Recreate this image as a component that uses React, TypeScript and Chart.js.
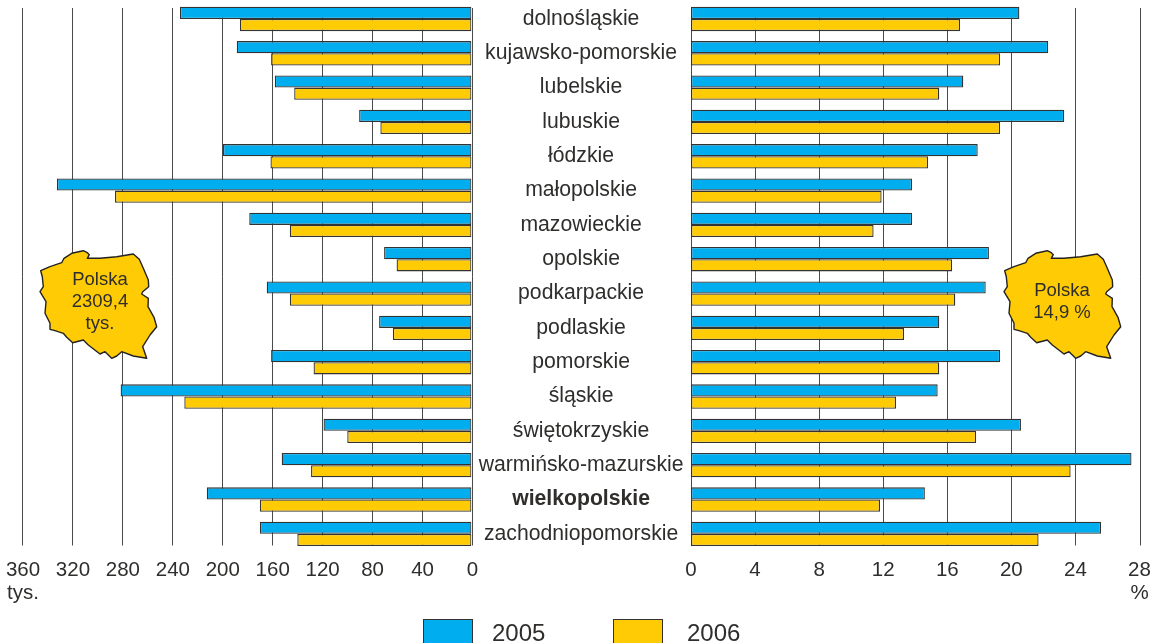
import React, { useEffect, useRef } from "react";
import { Chart, registerables } from "chart.js";

Chart.register(...registerables);

const categories = [
  "dolnośląskie", "kujawsko-pomorskie", "lubelskie", "lubuskie", "łódzkie", "małopolskie",
  "mazowieckie", "opolskie", "podkarpackie", "podlaskie", "pomorskie", "śląskie",
  "świętokrzyskie", "warmińsko-mazurskie", "wielkopolskie", "zachodniopomorskie",
];
const highlighted = "wielkopolskie";
const seriesNames = ["2005", "2006"];
const count2005 = [233.5, 188, 157.5, 90, 199, 332, 178, 70, 164, 74, 160.5, 281, 118.5, 152, 212, 169.5];
const count2006 = [185.5, 160.5, 142, 73, 161, 285.5, 145.5, 60, 145.5, 63, 126.5, 230, 99.5, 128.5, 169.5, 139.5];
const rate2005 = [20.5, 22.3, 17, 23.3, 17.9, 13.8, 13.8, 18.6, 18.4, 15.5, 19.3, 15.4, 20.6, 27.5, 14.6, 25.6];
const rate2006 = [16.8, 19.3, 15.5, 19.3, 14.8, 11.9, 11.4, 16.3, 16.5, 13.3, 15.5, 12.8, 17.8, 23.7, 11.8, 21.7];
const leftUnit = "tys.";
const rightUnit = "%";
const leftMapText = ["Polska", "2309,4", "tys."];
const rightMapText = ["Polska", "14,9 %"];

const BLUE = "#00AEEF";
const YELLOW = "#FFCB05";
const EDGE = "#333333";
const TEXT = "#2f2e2d";
const FAMILY = "'Liberation Sans', Arial, sans-serif";
const FONT = 20.5;
const CATEGORY_FONT = 21.2;
const PLOT_TOP = 1.8;
const PLOT_BOTTOM = 551;
const GRID_TOP = 8;
const GRID_BOTTOM = 545.5;

const mapOutline =
  "122,122 150,110 185,98 192,85 215,70 250,62 262,68 268,74 262,85 300,85 350,80 400,72 418,88 430,115 445,150 446,170 428,185 425,192 445,205 444,230 462,262 470,290 450,315 428,350 440,385 400,378 365,365 350,378 335,385 315,365 300,372 265,345 250,330 218,338 200,322 190,310 165,302 150,298 150,280 135,250 138,215 120,185 130,170 127,140";
const mapPoints = mapOutline
  .split(" ")
  .map((p) => {
    const [x, y] = p.split(",").map(Number);
    return `${(x / 3).toFixed(1)},${(y / 3).toFixed(1)}`;
  })
  .join(" ");

const noPadding = () => ({ left: 0, top: 0, right: 0, bottom: 0 });

const gridPlugin = {
  id: "shortGrid",
  beforeDatasetsDraw(chart: any) {
    const { ctx, scales } = chart;
    ctx.save();
    ctx.strokeStyle = "#4a4a4a";
    ctx.lineWidth = 1;
    scales.x.ticks.forEach((_: any, i: number) => {
      const x = Math.round(scales.x.getPixelForTick(i)) + 0.5;
      ctx.beginPath();
      ctx.moveTo(x, GRID_TOP);
      ctx.lineTo(x, GRID_BOTTOM);
      ctx.stroke();
    });
    ctx.restore();
  },
};

function datasets(a: number[], b: number[]) {
  return [a, b].map((data, i) => ({
    label: seriesNames[i],
    data,
    backgroundColor: i === 0 ? BLUE : YELLOW,
    borderColor: EDGE,
    borderWidth: 1.3,
    borderSkipped: false,
    barPercentage: 1,
    categoryPercentage: 0.71,
  }));
}

function xAxis(max: number, step: number, unit: string, reverse: boolean, labelOffset: number) {
  return {
    type: "linear",
    min: 0,
    max,
    reverse,
    grid: { display: false, drawTicks: false },
    border: { display: false },
    afterFit(scale: any) {
      scale.height = 643 - PLOT_BOTTOM;
      scale.getPadding = noPadding;
    },
    afterBuildTicks(scale: any) {
      const ticks = [];
      for (let v = 0; v <= max; v += step) ticks.push({ value: v });
      scale.ticks = ticks;
    },
    ticks: {
      color: TEXT,
      maxRotation: 0,
      autoSkip: false,
      padding: 8,
      labelOffset,
      font: { family: FAMILY, size: FONT, lineHeight: 1.12 },
      callback: (v: number) => (v === max ? [String(v), unit] : String(v)),
    },
  };
}

function PolandMap({ x, y, lines, cx, firstY }: { x: number; y: number; lines: string[]; cx: number; firstY: number }) {
  return (
    <svg
      width={180}
      height={140}
      style={{ position: "absolute", left: x, top: y, overflow: "visible" }}
    >
      <polygon points={mapPoints} fill={YELLOW} stroke="#222" strokeWidth={1.4} strokeLinejoin="round" />
      {lines.map((t, i) => (
        <text
          key={i}
          x={cx}
          y={firstY + i * 22}
          textAnchor="middle"
          dominantBaseline="central"
          fill={TEXT}
          style={{ font: `18.5px ${FAMILY}` }}
        >
          {t}
        </text>
      ))}
    </svg>
  );
}

function LegendItem({ x, color, label, textX }: { x: number; color: string; label: string; textX: number }) {
  return (
    <>
      <div
        style={{
          position: "absolute",
          left: x,
          top: 619,
          width: 50,
          height: 24,
          boxSizing: "border-box",
          background: color,
          border: `1px solid ${EDGE}`,
          borderBottom: "none",
        }}
      />
      <div
        style={{
          position: "absolute",
          left: textX,
          top: 619,
          font: `24px/28px ${FAMILY}`,
          color: TEXT,
        }}
      >
        {label}
      </div>
    </>
  );
}

export default function App() {
  const leftRef = useRef<HTMLCanvasElement>(null);
  const rightRef = useRef<HTMLCanvasElement>(null);

  useEffect(() => {
    const left = new Chart(leftRef.current!, {
      type: "bar",
      plugins: [gridPlugin],
      data: { labels: categories, datasets: datasets(count2005, count2006) as any },
      options: {
        indexAxis: "y",
        animation: false,
        responsive: false,
        layout: { autoPadding: false, padding: { left: 22, right: 8.5, top: PLOT_TOP, bottom: 0 } },
        plugins: { legend: { display: false }, title: { display: false }, tooltip: { enabled: false } },
        scales: {
          x: xAxis(360, 40, leftUnit, true, 1) as any,
          y: { display: false, type: "category", offset: true },
        },
      },
    });
    const right = new Chart(rightRef.current!, {
      type: "bar",
      plugins: [gridPlugin],
      data: { labels: categories, datasets: datasets(rate2005, rate2006) as any },
      options: {
        indexAxis: "y",
        animation: false,
        responsive: false,
        layout: { autoPadding: false, padding: { left: 0, right: 11.5, top: PLOT_TOP, bottom: 0 } },
        plugins: { legend: { display: false }, title: { display: false }, tooltip: { enabled: false } },
        scales: {
          x: xAxis(28, 4, rightUnit, false, 0) as any,
          y: {
            type: "category",
            offset: true,
            grid: { display: false, drawTicks: false },
            border: { display: false },
            afterFit(scale: any) {
              scale.width = 231;
              scale.getPadding = noPadding;
            },
            ticks: {
              color: TEXT,
              autoSkip: false,
              crossAlign: "center",
              padding: 7.5,
              font: (ctx: any) => ({
                family: FAMILY,
                size: CATEGORY_FONT,
                weight: categories[ctx.index] === highlighted ? "bold" : "normal",
              }),
            },
          } as any,
        },
      },
    });
    return () => {
      left.destroy();
      right.destroy();
    };
  }, []);

  return (
    <div style={{ position: "absolute", left: 0, top: 0, width: 1151, height: 643, overflow: "hidden", background: "#fff" }}>
      <canvas ref={leftRef} width={480} height={643} style={{ position: "absolute", left: 0, top: 0 }} />
      <canvas ref={rightRef} width={691} height={643} style={{ position: "absolute", left: 460, top: 0 }} />
      <PolandMap x={0} y={230} lines={leftMapText} cx={100} firstY={48} />
      <PolandMap x={964} y={230.3} lines={rightMapText} cx={98} firstY={59} />
      <LegendItem x={423} color={BLUE} label={seriesNames[0]} textX={492} />
      <LegendItem x={613} color={YELLOW} label={seriesNames[1]} textX={687} />
    </div>
  );
}
